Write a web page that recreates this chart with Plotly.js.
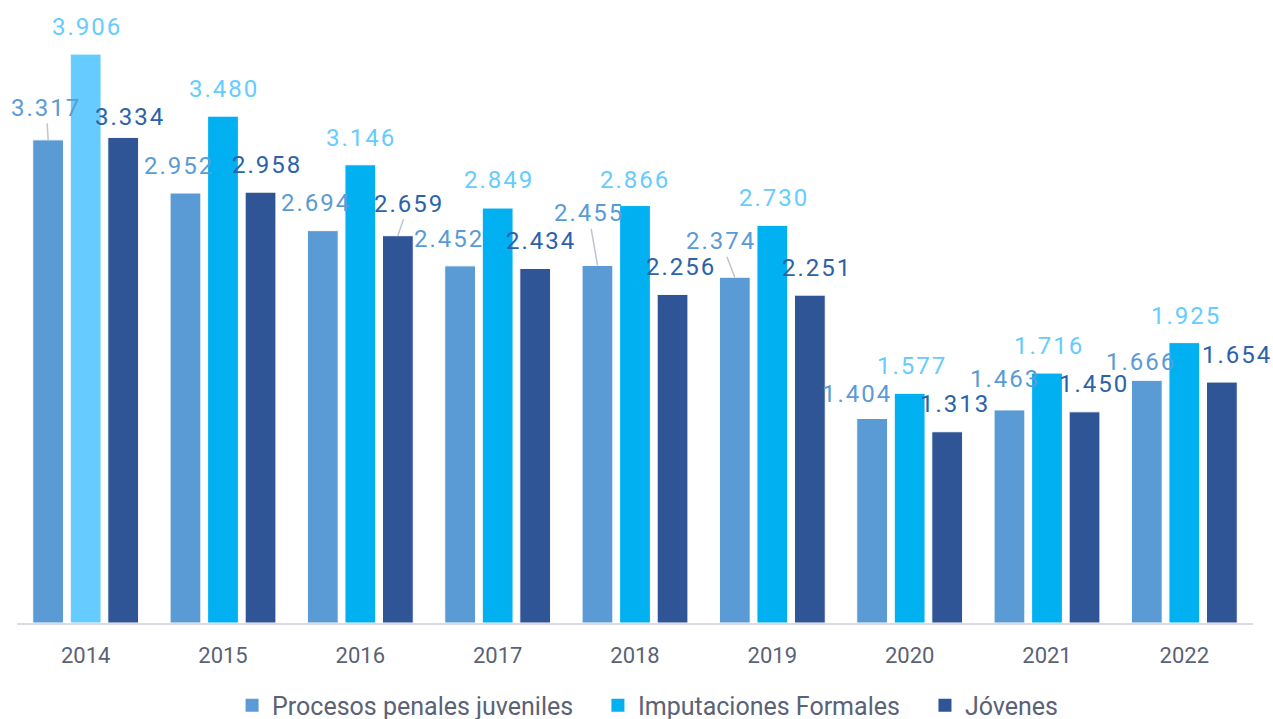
<!DOCTYPE html>
<html>
<head>
<meta charset="utf-8">
<script src="https://cdn.plot.ly/plotly-3.0.1.min.js"></script>
<style>
html,body{margin:0;padding:0;background:#ffffff;}
#chart .annotation-text{letter-spacing:2px;}
</style>
</head>
<body>
<div id="chart" style="width:1273px;height:719px;"></div>
<script>
// ---- data ----
const years = ['2014','2015','2016','2017','2018','2019','2020','2021','2022'];
const procesos = [3317, 2952, 2694, 2452, 2455, 2374, 1404, 1463, 1666];
const imputaciones = [3906, 3480, 3146, 2849, 2866, 2730, 1577, 1716, 1925];
const jovenes = [3334, 2958, 2659, 2434, 2256, 2251, 1313, 1450, 1654];
const seriesNames = ['Procesos penales juveniles', 'Imputaciones Formales', 'Jóvenes'];

// ---- style ----
const barColors = ['#5B9BD5', '#00B0F0', '#2F5597'];
const firstImputacionColor = '#66CCFF';
const labelColors = ['#5B9BD5', '#66CCFF', '#2C62AA'];
const barOffsetPx = [-37.5, 0, 37.5];
// label placement (px) relative to the top centre of each bar; third entry = leader line
const nudges = [
  [[-2,-32,1],[-7,-27,0],[-7,-28,0],[-11,-27,0],[-9,-52,1],[-14,-36,1],[-15,-25,0],[-5,-31,0],[-6,-18,0]],
  [[1,-27,0],[1,-27,0],[1,-27,0],[1,-28,0],[0,-26,0],[2,-27,0],[2,-27,0],[2,-27,0],[2,-27,0]],
  [[7,-20,0],[6,-27,0],[11,-32,1],[6,-27,0],[8,-27,0],[7,-27,0],[8,-28,0],[9,-28,0],[15,-27,0]]
];

function fmt(v){ return String(v).replace(/\B(?=(\d{3})+(?!\d))/g, '.'); }

const seriesValues = [procesos, imputaciones, jovenes];
const barLine = {color:'#ffffff', width:1};
const legendIds = ['legend', 'legend2', 'legend3'];

const traces = [
  {type:'bar', x:years, y:procesos, name:seriesNames[0], showlegend:false, marker:{color:barColors[0], line:barLine}},
  {type:'bar', x:years, y:imputaciones, name:seriesNames[1], showlegend:false,
   marker:{color:years.map((y,i)=> i===0 ? firstImputacionColor : barColors[1]), line:barLine}},
  {type:'bar', x:years, y:jovenes, name:seriesNames[2], showlegend:false, marker:{color:barColors[2], line:barLine}}
];
// legend entries (square swatches)
seriesNames.forEach((nm, s) => {
  traces.push({type:'scatter', mode:'markers', x:[years[0]], y:[null], name:nm, showlegend:true,
    legend: legendIds[s], marker:{symbol:'square', size:13, color:barColors[s], line:{width:0}}});
});

const annotations = [];
seriesValues.forEach((vals, s) => {
  vals.forEach((v, j) => {
    const n = nudges[s][j];
    annotations.push({
      x: j, y: v, xref:'x', yref:'y',   // category index on the x axis
      xshift: barOffsetPx[s],
      text: fmt(v),
      showarrow: true, arrowhead: 0, standoff: 0, startstandoff: 0,
      arrowwidth: 1.5,
      arrowcolor: n[2] ? '#BFC5CE' : 'rgba(0,0,0,0)',
      ax: n[0], ay: n[1],
      font: {family:'Roboto, sans-serif', size:24, color: labelColors[s]}
    });
  });
});

const legendFont = {family:'Roboto, sans-serif', size:25, color:'#5a6275'};
const legendBase = {orientation:'h', xanchor:'left', yanchor:'middle', y:-0.137, bgcolor:'rgba(0,0,0,0)', font:legendFont};

const layout = {
  width:1273, height:719,
  paper_bgcolor:'#ffffff', plot_bgcolor:'#ffffff',
  margin:{l:17, r:20, t:20, b:96, autoexpand:false},
  barmode:'group', bargap:0.18, bargroupgap:0.18,
  showlegend:true,
  xaxis:{type:'category', categoryorder:'array', categoryarray:years, range:[-0.5, years.length-0.5],
         showline:true, linecolor:'#D9DDE3', linewidth:2,
         ticks:'', showgrid:false, zeroline:false, ticklabelstandoff:12,
         tickfont:{family:'Roboto, sans-serif', size:22, color:'#5a6275'}},
  yaxis:{range:[0, 4140], visible:false, showgrid:false, zeroline:false},
  legend: Object.assign({}, legendBase, {x:0.174}),
  legend2: Object.assign({}, legendBase, {x:0.470}),
  legend3: Object.assign({}, legendBase, {x:0.7346}),
  annotations: annotations,
  hovermode:false
};

Plotly.newPlot('chart', traces, layout, {staticPlot:true, displayModeBar:false});
</script>
</body>
</html>
